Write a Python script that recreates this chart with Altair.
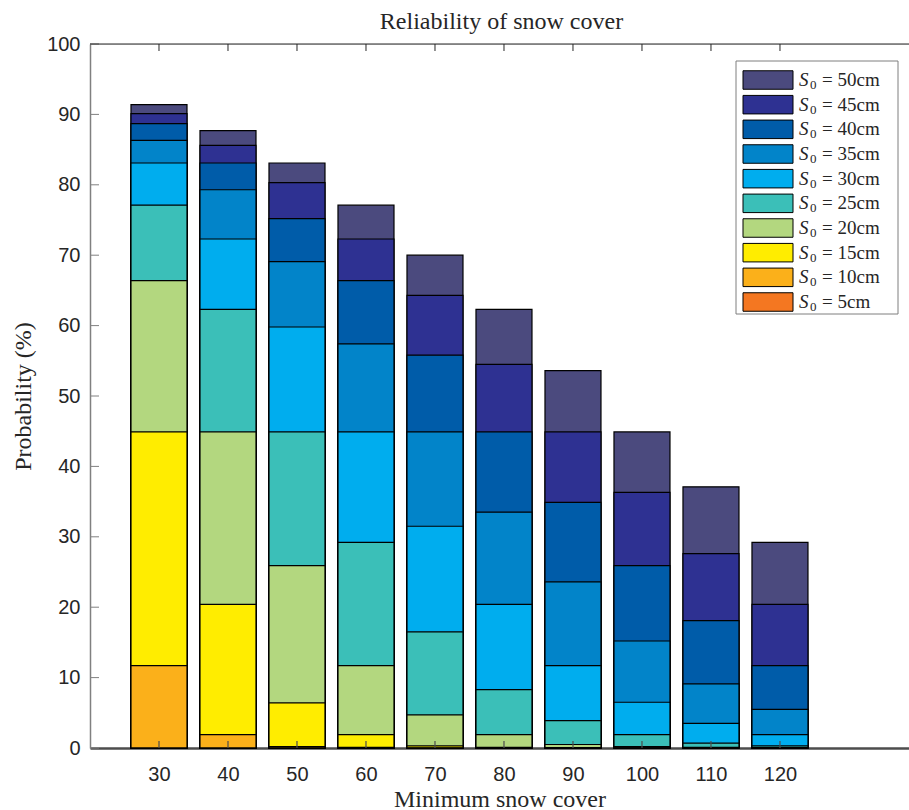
import altair as alt
import pandas as pd

# Minimum snow cover (cm) on the x axis
min_cover = [30, 40, 50, 60, 70, 80, 90, 100, 110, 120]

# Probability (%) of reaching each minimum cover, per initial snow depth S0
p_s0_50 = [91.4, 87.7, 83.1, 77.1, 70.0, 62.3, 53.6, 44.9, 37.1, 29.2]
p_s0_45 = [90.1, 85.6, 80.3, 72.3, 64.3, 54.5, 44.9, 36.3, 27.6, 20.4]
p_s0_40 = [88.7, 83.1, 75.2, 66.4, 55.8, 44.9, 34.9, 25.9, 18.1, 11.7]
p_s0_35 = [86.3, 79.3, 69.1, 57.4, 44.9, 33.5, 23.6, 15.2, 9.1, 5.5]
p_s0_30 = [83.1, 72.3, 59.8, 44.9, 31.5, 20.4, 11.7, 6.5, 3.5, 1.9]
p_s0_25 = [77.1, 62.3, 44.9, 29.2, 16.5, 8.3, 3.9, 1.9, 0.7, 0.3]
p_s0_20 = [66.4, 44.9, 25.9, 11.7, 4.7, 1.9, 0.5, 0.2, 0.1, 0.05]
p_s0_15 = [44.9, 20.4, 6.4, 1.9, 0.3, 0.1, 0.05, 0.0, 0.0, 0.0]
p_s0_10 = [11.7, 1.9, 0.2, 0.1, 0.0, 0.0, 0.0, 0.0, 0.0, 0.0]
p_s0_5 = [0.0, 0.0, 0.0, 0.0, 0.0, 0.0, 0.0, 0.0, 0.0, 0.0]

# Deepest snow first so shallower series are drawn on top
s0_labels = ["50", "45", "40", "35", "30", "25", "20", "15", "10", "5"]
series = [p_s0_50, p_s0_45, p_s0_40, p_s0_35, p_s0_30,
          p_s0_25, p_s0_20, p_s0_15, p_s0_10, p_s0_5]
s0_colors = ["#4B4A7E", "#2E3192", "#005CA9", "#0284C9", "#00ADEE",
             "#3BBFB8", "#B3D77F", "#FFED00", "#FBB01A", "#F47721"]

y_ticks = [0, 10, 20, 30, 40, 50, 60, 70, 80, 90, 100]
title_text = "Reliability of snow cover"

rows = []
for lab, vals in zip(s0_labels, series):
    for m, v in zip(min_cover, vals):
        rows.append({"cover": m, "S0": lab, "prob": v})
bars_df = pd.DataFrame(rows)
xtick_df = pd.DataFrame({"cover": min_cover})
ytick_df = pd.DataFrame({"prob": y_ticks})
legend_df = pd.DataFrame({"S0": s0_labels, "rest": ["= " + s + "cm" for s in s0_labels]})

W, H = 819, 704
x_scale = alt.Scale(domain=[20, 138.7], nice=False, zero=False, padding=0)
y_scale = alt.Scale(domain=[0, 100], nice=False, padding=0)
fill_scale = alt.Scale(domain=s0_labels, range=s0_colors)

sans = "Liberation Sans"
serif = "Liberation Serif"
ink = "#262626"

x_axis = alt.Axis(values=min_cover, title="Minimum snow cover",
                  grid=False, ticks=False, labelPadding=16,
                  labelFont=sans, labelFontSize=20, labelColor=ink,
                  domainColor="#4d4d4d", domainWidth=2.5,
                  titleFont=serif, titleFontSize=24, titleFontWeight="normal",
                  titleColor=ink, titleBaseline="alphabetic", titleY=58)
y_axis = alt.Axis(values=y_ticks, title="Probability (%)",
                  grid=False, ticks=False, labelPadding=10,
                  labelFont=sans, labelFontSize=20, labelColor=ink,
                  domainColor="#808080", domainWidth=1.5,
                  titleFont=serif, titleFontSize=24, titleFontWeight="normal",
                  titleColor=ink, titleBaseline="alphabetic",
                  titleX=-60, titleAngle=-90)

bars = alt.Chart(bars_df).mark_bar(
    size=56, stroke="black", strokeWidth=1.2
).encode(
    x=alt.X("cover:Q", scale=x_scale, axis=x_axis),
    y=alt.Y("prob:Q", scale=y_scale, stack=None, axis=y_axis),
    fill=alt.Fill("S0:N", scale=fill_scale, legend=None),
)

# Inward tick marks, as on a boxed axis
y_tick_marks = alt.Chart(ytick_df).mark_rule(color="#808080", strokeWidth=1).encode(
    y=alt.Y("prob:Q", scale=y_scale, axis=y_axis), x=alt.value(0), x2=alt.value(9)
)
x_tick_bottom = alt.Chart(xtick_df).mark_rule(color="#4d4d4d", strokeWidth=1.2).encode(
    x=alt.X("cover:Q", scale=x_scale, axis=x_axis), y=alt.value(H), y2=alt.value(H - 7)
)
x_tick_top = alt.Chart(xtick_df).mark_rule(color=ink, strokeWidth=1).encode(
    x=alt.X("cover:Q", scale=x_scale, axis=x_axis), y=alt.value(0), y2=alt.value(7)
)
top_line = alt.Chart(pd.DataFrame({"prob": [100]})).mark_rule(color=ink, strokeWidth=1).encode(
    y=alt.Y("prob:Q", scale=y_scale, axis=y_axis), x=alt.value(0), x2=alt.value(W)
)
title = alt.Chart(pd.DataFrame({"t": [title_text]})).mark_text(
    font=serif, fontSize=24, color=ink, align="center", baseline="alphabetic"
).encode(text="t:N", x=alt.value(W / 2 + 2), y=alt.value(-15))

main = alt.layer(bars, y_tick_marks, x_tick_bottom, x_tick_top, top_line, title)

# Legend box in the upper right corner
row_y = alt.Y("S0:N", scale=alt.Scale(type="point", domain=s0_labels,
                                      range=[36, 258], padding=0), axis=None)
legend_box = alt.Chart(pd.DataFrame({"b": [0]})).mark_rect(
    fill="white", stroke="#7f7f7f", strokeWidth=1
).encode(x=alt.value(646), x2=alt.value(808), y=alt.value(17), y2=alt.value(270))
swatches = alt.Chart(legend_df).mark_point(
    shape="M-1,-0.37H1V0.37H-1Z", size=2500, filled=True, opacity=1,
    stroke="black", strokeWidth=1
).encode(x=alt.value(678), y=row_y, fill=alt.Fill("S0:N", scale=fill_scale, legend=None))
sym_s = alt.Chart(legend_df).mark_text(
    text="S", font=serif, fontSize=19, fontStyle="italic", color=ink,
    align="left", baseline="middle"
).encode(x=alt.value(709), y=row_y)
sym_0 = alt.Chart(legend_df).mark_text(
    text="0", font=serif, fontSize=13, color=ink, align="left", baseline="middle", dy=5
).encode(x=alt.value(720), y=row_y)
sym_rest = alt.Chart(legend_df).mark_text(
    font=serif, fontSize=19, color=ink, align="left", baseline="middle"
).encode(x=alt.value(732), y=row_y, text="rest:N")

legend = alt.layer(legend_box, swatches, sym_s, sym_0, sym_rest)

chart = alt.layer(main, legend).resolve_scale(y="independent").properties(
    width=W, height=H,
    autosize=alt.AutoSizeParams(type="none"),
    padding={"left": 90, "top": 44, "right": 0, "bottom": 62},
).configure_view(stroke=None).configure(background="white")

chart.save("out.html", embed_options={"renderer": "svg", "actions": False})
